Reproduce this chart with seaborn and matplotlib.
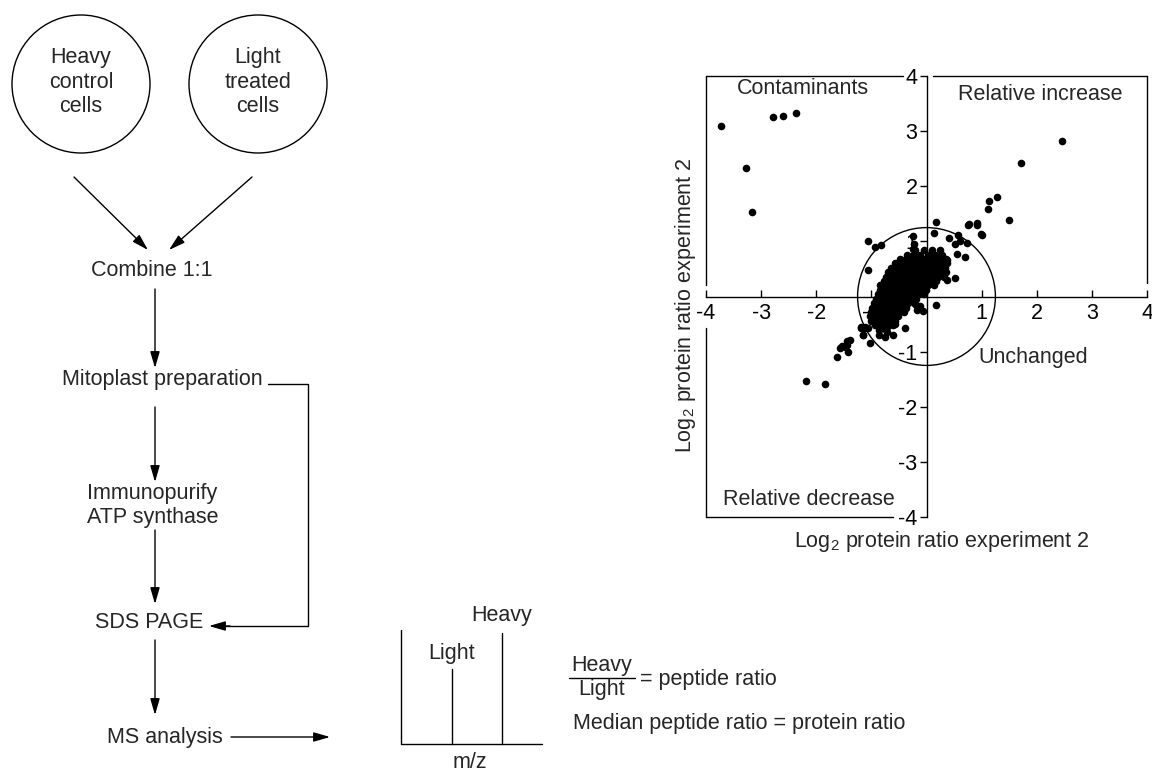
import numpy as np
import pandas as pd
import matplotlib
matplotlib.use('Agg')
import matplotlib.pyplot as plt
from matplotlib.patches import Circle
import seaborn as sns

# 散点数据
outlier_x = [-3.72, -2.78, -2.60, -2.36, -3.27, -3.16,
             2.45, 1.72, 1.27, 1.13, 1.12, 1.49, 0.91, 0.77, 0.99,
             0.18, 0.14, -0.24, -0.23, -0.25, -1.06, -0.93, -0.83, -1.06,
             -0.84, -0.78, 0.52, 0.37, 0.18, 0.40, 0.58, 0.61, 0.52, 0.55,
             0.70, 0.73, 0.76, 0.91, 1.00, 0.24, 0.28, 0.37,
             -1.12, -1.18, -1.15, -1.03, -0.87, -0.75, -0.60, -0.39,
             -0.18, -0.12, -0.06, -0.19,
             -2.19, -1.84, -1.63, -1.57, -1.54, -1.45, -1.38, -1.42, -1.48, -1.45,
             -1.18, -1.06, -1.12, -1.15, -0.97, -0.90, -0.93,
             -0.72, -0.57, -0.78, -0.69]
outlier_y = [3.09, 3.26, 3.28, 3.33, 2.34, 1.54,
             2.82, 2.42, 1.81, 1.73, 1.59, 1.39, 1.33, 1.31, 1.13,
             1.35, 1.15, 1.10, 0.96, 0.86, 1.00, 0.90, 0.93, 0.48,
             0.21, 0.19, 0.33, 0.30, -0.15, 1.06, 1.12, 1.00, 0.96, 0.78,
             0.72, 0.97, 1.30, 1.30, 1.12, 0.84, 0.66, 0.66,
             -0.58, -0.56, -0.70, -0.85, -0.70, -0.73, -0.70, -0.58,
             -0.25, -0.18, -0.27, -0.15,
             -1.53, -1.59, -1.10, -0.94, -0.90, -0.80, -0.79, -1.00, -0.91, -0.88,
             -0.58, -0.58, -0.55, -0.70, -0.30, -0.33, -0.25,
             -0.65, -0.50, -0.56, -0.53]

# 中心密集区，按行记录
core_rows_y = [0.84, 0.76, 0.68, 0.60, 0.52, 0.44, 0.36, 0.28, 0.20, 0.12,
               0.04, -0.04, -0.12, -0.20, -0.28, -0.36, -0.44, -0.52, -0.60]
core_rows_x = [
    [-0.20, -0.05, 0.10],
    [-0.36, -0.24, -0.12, 0.02, 0.16, 0.28],
    [-0.48, -0.38, -0.28, -0.18, -0.07, 0.04, 0.16, 0.27, 0.36],
    [-0.58, -0.48, -0.38, -0.28, -0.17, -0.07, 0.04, 0.15, 0.26, 0.38],
    [-0.64, -0.54, -0.43, -0.33, -0.22, -0.11, 0.00, 0.11, 0.22, 0.33],
    [-0.69, -0.59, -0.49, -0.38, -0.28, -0.17, -0.06, 0.05, 0.16, 0.27, 0.36],
    [-0.73, -0.63, -0.52, -0.42, -0.32, -0.21, -0.11, 0.00, 0.10, 0.21, 0.31],
    [-0.77, -0.67, -0.56, -0.46, -0.36, -0.25, -0.15, -0.04, 0.07, 0.18],
    [-0.80, -0.70, -0.60, -0.50, -0.40, -0.30, -0.19, -0.08, 0.03, 0.13],
    [-0.84, -0.74, -0.64, -0.54, -0.44, -0.34, -0.23, -0.12, -0.01],
    [-0.88, -0.78, -0.68, -0.58, -0.48, -0.38, -0.27, -0.16, -0.05],
    [-0.92, -0.82, -0.72, -0.62, -0.52, -0.41, -0.30, -0.19],
    [-0.96, -0.86, -0.76, -0.66, -0.56, -0.45, -0.34, -0.22],
    [-0.99, -0.89, -0.79, -0.69, -0.59, -0.48, -0.37],
    [-1.01, -0.91, -0.81, -0.71, -0.61, -0.51, -0.40],
    [-1.02, -0.92, -0.82, -0.72, -0.62, -0.52],
    [-1.00, -0.90, -0.80, -0.69, -0.58],
    [-0.94, -0.83, -0.72, -0.61],
    [-0.86, -0.74],
]

ticks = [-4, -3, -2, -1, 1, 2, 3, 4]
tick_labels = ['-4', '-3', '-2', '-1', '1', '2', '3', '4']

core_x = [x for row in core_rows_x for x in row]
core_y = [y for y, row in zip(core_rows_y, core_rows_x) for _ in row]
df = pd.DataFrame({'exp1': outlier_x + core_x, 'exp2': outlier_y + core_y})

sns.set_theme(style='white')
plt.rcParams['font.family'] = ['Liberation Sans', 'DejaVu Sans']
plt.rcParams['mathtext.fontset'] = 'custom'
plt.rcParams['mathtext.rm'] = 'Liberation Sans'
plt.rcParams['mathtext.it'] = 'Liberation Sans'
FS = 15.5
LW = 1.0

fig = plt.figure(figsize=(11.52, 7.71), dpi=100)

# 流程图画布（像素坐标）
fa = fig.add_axes([0, 0, 1, 1])
fa.set_xlim(0, 1152)
fa.set_ylim(771, 0)
fa.axis('off')


def arrow(x0, y0, x1, y1):
    fa.annotate('', xy=(x1, y1), xytext=(x0, y0),
                arrowprops=dict(arrowstyle='-|>,head_length=0.55,head_width=0.16',
                                color='black', lw=LW, mutation_scale=18,
                                shrinkA=0, shrinkB=0))


for cx, lines in [(81, ['Heavy', 'control', 'cells']), (258, ['Light', 'treated', 'cells'])]:
    fa.add_patch(Circle((cx, 84), 69, fill=False, ec='black', lw=LW))
    for i, t in enumerate(lines):
        fa.text(cx, 57 + 25 * i, t, ha='center', va='center', fontsize=FS)

arrow(74, 177, 148, 250)
arrow(252, 177, 169, 250)
fa.text(152, 271, 'Combine 1:1', ha='center', va='center', fontsize=FS)
arrow(155, 289, 155, 368)
fa.text(162, 380, 'Mitoplast preparation', ha='center', va='center', fontsize=FS)
fa.plot([268, 308, 308, 225], [384, 384, 626, 626], color='black', lw=LW)
arrow(230, 626, 209, 626)
arrow(155, 407, 155, 482)
fa.text(87, 493, 'Immunopurify', ha='left', va='center', fontsize=FS)
fa.text(87, 518, 'ATP synthase', ha='left', va='center', fontsize=FS)
arrow(155, 530, 155, 604)
fa.text(149, 623, 'SDS PAGE', ha='center', va='center', fontsize=FS)
arrow(155, 640, 155, 715)
fa.text(165, 737, 'MS analysis', ha='center', va='center', fontsize=FS)
arrow(231, 737, 330, 737)

# 质谱示意
fa.plot([401, 401, 542], [630, 744, 744], color='black', lw=LW)
fa.plot([452, 452], [669, 744], color='black', lw=LW)
fa.plot([502, 502], [633, 744], color='black', lw=LW)
fa.text(452, 653, 'Light', ha='center', va='center', fontsize=FS)
fa.text(502, 615, 'Heavy', ha='center', va='center', fontsize=FS)
fa.text(470, 762, 'm/z', ha='center', va='center', fontsize=FS)
fa.text(602, 666, 'Heavy', ha='center', va='center', fontsize=FS)
fa.plot([569, 635], [678, 678], color='black', lw=LW)
fa.text(602, 690, 'Light', ha='center', va='center', fontsize=FS)
fa.text(640, 680, '= peptide ratio', ha='left', va='center', fontsize=FS)
fa.text(573, 724, 'Median peptide ratio = protein ratio', ha='left', va='center', fontsize=FS)

# 散点图
ax = fig.add_axes([706 / 1152, 1 - 517 / 771, 441 / 1152, 441 / 771])
sns.scatterplot(data=df, x='exp1', y='exp2', ax=ax, color='black', s=30,
                linewidth=0, zorder=3, legend=False)
ax.set_xlim(-4, 4)
ax.set_ylim(-4, 4)
ax.set_facecolor('none')
ax.spines['left'].set_position('zero')
ax.spines['bottom'].set_position('zero')
ax.spines['top'].set_visible(False)
ax.spines['right'].set_visible(False)
for s in ['left', 'bottom']:
    ax.spines[s].set_linewidth(LW)
    ax.spines[s].set_color('black')
ax.set_xticks(ticks)
ax.set_xticklabels(tick_labels)
ax.set_yticks(ticks)
ax.set_yticklabels(tick_labels)
ax.tick_params(axis='x', direction='in', length=5, width=LW, pad=5,
               labelsize=FS, colors='black', bottom=True)
ax.tick_params(axis='y', direction='out', length=5, width=LW, pad=1.5,
               labelsize=FS, colors='black', left=True)
ax.set_xlabel('')
ax.set_ylabel('')

# 外框（留出刻度标签的空隙）
frame = [([-4, -0.43], [4, 4]), ([0.12, 4], [4, 4]),
         ([-4, -4], [4, 0.2]), ([-4, -4], [-0.57, -4]),
         ([-4, -0.61], [-4, -4]), ([4, 4], [4, 0.25])]
for fx, fy in frame:
    ax.plot(fx, fy, color='black', lw=LW, clip_on=False)

ax.add_patch(Circle((0, 0), 1.25, fill=False, ec='black', lw=LW, zorder=4))

ax.text(-2.24, 3.78, 'Contaminants', ha='center', va='center', fontsize=FS)
ax.text(2.06, 3.66, 'Relative increase', ha='center', va='center', fontsize=FS)
ax.text(1.93, -1.10, 'Unchanged', ha='center', va='center', fontsize=FS)
ax.text(-2.13, -3.69, 'Relative decrease', ha='center', va='center', fontsize=FS)

fa.text(942, 542, 'Log$_2$ protein ratio experiment 2', ha='center', va='center', fontsize=FS)
fa.text(685, 305, 'Log$_2$ protein ratio experiment 2', ha='center', va='center',
        rotation=90, fontsize=FS)

fig.savefig('out.png', dpi=100, facecolor='white')
